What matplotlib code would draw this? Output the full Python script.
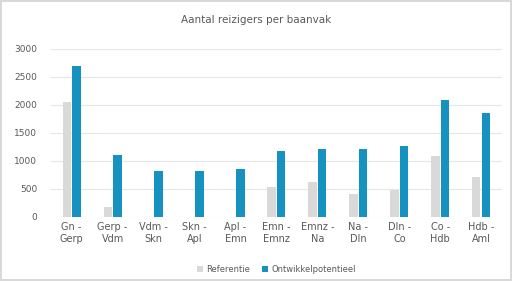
import matplotlib
matplotlib.use("Agg")
import matplotlib.pyplot as plt
import numpy as np

trajecten = ["Gn -\nGerp", "Gerp -\nVdm", "Vdm -\nSkn", "Skn -\nApl", "Apl -\nEmn",
             "Emn -\nEmnz", "Emnz -\nNa", "Na -\nDln", "Dln -\nCo", "Co -\nHdb", "Hdb -\nAml"]
referentie = [2050, 180, 0, 0, 0, 540, 630, 410, 480, 1090, 710]
ontwikkel = [2700, 1110, 820, 820, 860, 1180, 1210, 1210, 1270, 2090, 1860]

txt = '#595959'
fig = plt.figure(figsize=(5.12, 2.81), dpi=100)
fig.patch.set_edgecolor('#d9d9d9')
fig.patch.set_linewidth(1.5)
ax = fig.add_axes([0.1, 0.228, 0.88, 0.598])

x = np.arange(len(trajecten))
w = 0.2
ax.bar(x - 0.12, referentie, w, color='#d9d9d9', label='Referentie', zorder=3)
ax.bar(x + 0.12, ontwikkel, w, color='#1592c0', label='Ontwikkelpotentieel', zorder=3)

ax.set_xlim(-0.5, len(trajecten) - 0.5)
ax.set_ylim(0, 3000)
ax.set_yticks(range(0, 3001, 500))
ax.set_xticks(x)
ax.set_xticklabels(trajecten, fontsize=7, color=txt)
ax.tick_params(axis='y', labelsize=6.5, labelcolor=txt, length=0, pad=10)
ax.tick_params(axis='x', length=0, pad=4)
ax.grid(axis='y', color='#e6e6e6', linewidth=0.8, zorder=0)
for s in ax.spines.values():
    s.set_visible(False)

fig.suptitle('Aantal reizigers per baanvak', y=0.945, fontsize=7.5, color=txt)
fig.legend(loc='lower center', bbox_to_anchor=(0.54, 0.0), ncol=2, frameon=False,
           fontsize=6, labelcolor=txt, handlelength=0.7, handleheight=0.7,
           columnspacing=1.5, handletextpad=0.4)

fig.savefig('out.png', dpi=100)
